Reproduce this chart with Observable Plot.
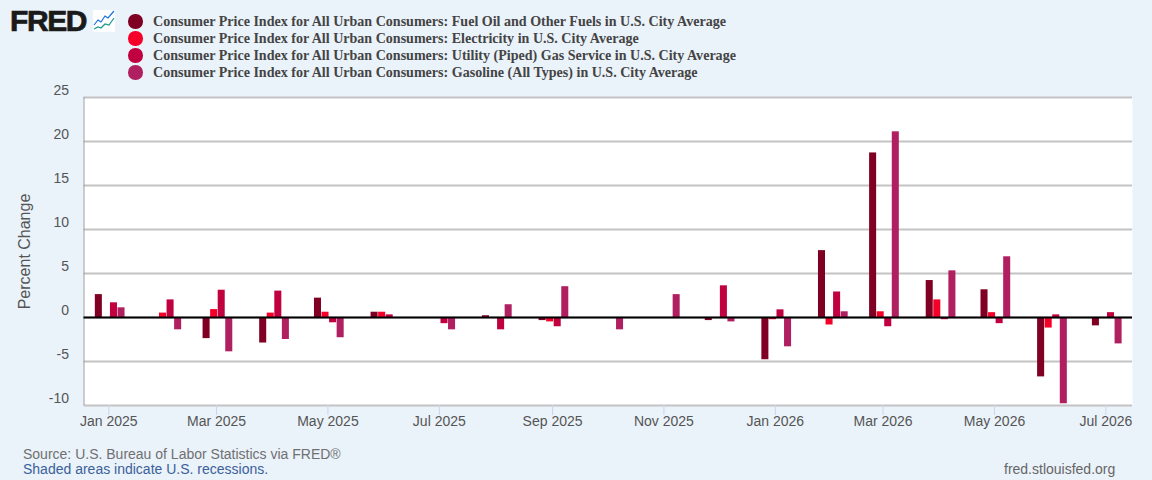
<!DOCTYPE html>
<html>
<head>
<meta charset="utf-8">
<script src="https://cdn.jsdelivr.net/npm/d3@7"></script>
<script src="https://cdn.jsdelivr.net/npm/@observablehq/plot@0.6"></script>
<style>
html,body{margin:0;padding:0;background:#eaf2fa;width:1152px;height:480px;overflow:hidden}
#head{position:relative;height:80px;width:1152px}
#logo{position:absolute;left:10px;top:4px;font:900 30px "Liberation Sans",sans-serif;color:#1a1a1a;letter-spacing:-1.4px;-webkit-text-stroke:.7px #1a1a1a;line-height:34px}
#icon{position:absolute;left:93px;top:10px}
.leg{position:absolute;left:128px;height:17px;display:flex;align-items:center;font:bold 14.05px "Liberation Serif",serif;color:#444;white-space:nowrap}
.leg i{display:inline-block;width:14.5px;height:14.5px;border-radius:50%;margin-right:10.5px}
#plot{height:355px}
#plot svg{display:block}
#foot{position:relative;height:45px;width:1152px;font:14px/15px "Liberation Sans",sans-serif;color:#707070}
#foot div{position:absolute;white-space:nowrap}
</style>
</head>
<body>
<div id="head">
<div id="logo">FRED</div>
<svg id="icon" width="22" height="22" viewBox="0 0 22 22"><rect width="22" height="22" rx="1" fill="#fff"/><polyline points="1,15 5,10 8,12 12,6 15,8 21,1" fill="none" stroke="#1a6fdf" stroke-width="1.2"/><polyline points="1,19 5,17 8,18 12,14 16,15 21,8" fill="none" stroke="#1a9a8a" stroke-width="1.2"/></svg>
</div>
<div id="plot"></div>
<div id="foot">
<div style="left:23px;top:12px">Source: U.S. Bureau of Labor Statistics via FRED®</div>
<div style="left:23px;top:27px;color:#3a6199">Shaded areas indicate U.S. recessions.</div>
<div style="left:1004px;top:27px;color:#666">fred.stlouisfed.org</div>
</div>
<script>
const months = ["2025-01","2025-02","2025-03","2025-04","2025-05","2025-06","2025-07","2025-08","2025-09","2025-10","2025-11","2025-12","2026-01","2026-02","2026-03","2026-04","2026-05","2026-06","2026-07"];
const fuelOil     = [2.6, null, -2.4, -2.9, 2.2, 0.6, null, 0.2, -0.35, null, null, -0.35, -4.8, 7.6, 18.7, 4.2, 3.15, -6.75, -0.95];
const electricity = [null, 0.5, 0.9, 0.5, 0.6, 0.6, null, null, -0.5, null, null, null, -0.25, -0.85, 0.65, 2.0, 0.55, -1.2, null];
const pipedGas    = [1.67, 2.0, 3.1, 3.0, -0.6, 0.3, -0.7, -1.4, -1.05, null, null, 3.6, 0.87, 2.9, -1.05, -0.25, -0.7, 0.3, 0.55];
const gasoline    = [1.1, -1.4, -3.9, -2.5, -2.3, null, -1.4, 1.45, 3.5, -1.4, 2.6, -0.5, -3.33, 0.65, 21.1, 5.3, 6.9, -9.8, -3.0];
const seriesNames = [
  "Consumer Price Index for All Urban Consumers: Fuel Oil and Other Fuels in U.S. City Average",
  "Consumer Price Index for All Urban Consumers: Electricity in U.S. City Average",
  "Consumer Price Index for All Urban Consumers: Utility (Piped) Gas Service in U.S. City Average",
  "Consumer Price Index for All Urban Consumers: Gasoline (All Types) in U.S. City Average"
];
const seriesColors = ["#7f0023","#f50029","#c0003f","#b01f5f"];
const yTicks = [25,20,15,10,5,0,-5,-10];
const yTitle = "Percent Change";
const xTicks = ["2025-01","2025-03","2025-05","2025-07","2025-09","2025-11","2026-01","2026-03","2026-05","2026-07"];
const xDomain = ["2024-12-18T10:00Z","2026-07-15T14:00Z"];

const DAY = 864e5;
const slotDays = 4.14, barDays = 3.85, groupShiftDays = 0.9;
const utc = s => new Date(s + "-01T00:00Z");
const rows = [fuelOil, electricity, pipedGas, gasoline].flatMap((vals, k) =>
  vals.map((v, i) => ({series: seriesNames[k], k, date: utc(months[i]), value: v})).filter(d => d.value != null));
const left = d => new Date(+d.date + ((d.k - 2) * slotDays + groupShiftDays) * DAY);
const right = d => new Date(+left(d) + barDays * DAY);

const head = document.getElementById("head");
seriesNames.forEach((name, i) => {
  const el = document.createElement("div");
  el.className = "leg";
  el.style.top = (13 + i * 17) + "px";
  const dot = document.createElement("i");
  dot.style.background = seriesColors[i];
  el.append(dot, name);
  head.append(el);
});

const chart = Plot.plot({
  width: 1152, height: 355,
  marginLeft: 83.5, marginRight: 20, marginTop: 17, marginBottom: 30,
  style: {background: "transparent", fontFamily: "'Liberation Sans',sans-serif", fontSize: "14px", color: "#555"},
  x: {type: "utc", domain: xDomain.map(s => new Date(s))},
  y: {domain: [-10, 25]},
  color: {domain: seriesNames, range: seriesColors},
  marks: [
    Plot.frame({fill: "#fff", stroke: null}),
    Plot.ruleY(yTicks, {stroke: "#c3c3c3", strokeWidth: 1.8}),
    Plot.ruleX([new Date(xDomain[0])], {stroke: "#a0a0a0", strokeWidth: 1}),
    Plot.axisY({ticks: yTicks, tickSize: 0, tickPadding: 15, dy: -6.5, fill: "#555", label: null, fontSize: 14, tickFormat: d => String(d)}),
    Plot.text([yTitle], {frameAnchor: "left", textAnchor: "middle", rotate: -90, dx: -59.5, fontSize: 16, fill: "#555"}),
    Plot.axisX({ticks: xTicks.map(utc), tickFormat: d3.utcFormat("%b %Y"), tickSize: 10, tickPadding: 1, stroke: "#ccd6eb", fill: "#555", label: null, fontSize: 14}),
    Plot.rectY(rows, {x1: left, x2: right, y1: 0, y2: "value", fill: "series", inset: 0, title: d => `${d.series}: ${d.value}`}),
    Plot.ruleY([0], {stroke: "#000", strokeWidth: 2})
  ]
});
document.getElementById("plot").append(chart);
</script>
</body>
</html>
